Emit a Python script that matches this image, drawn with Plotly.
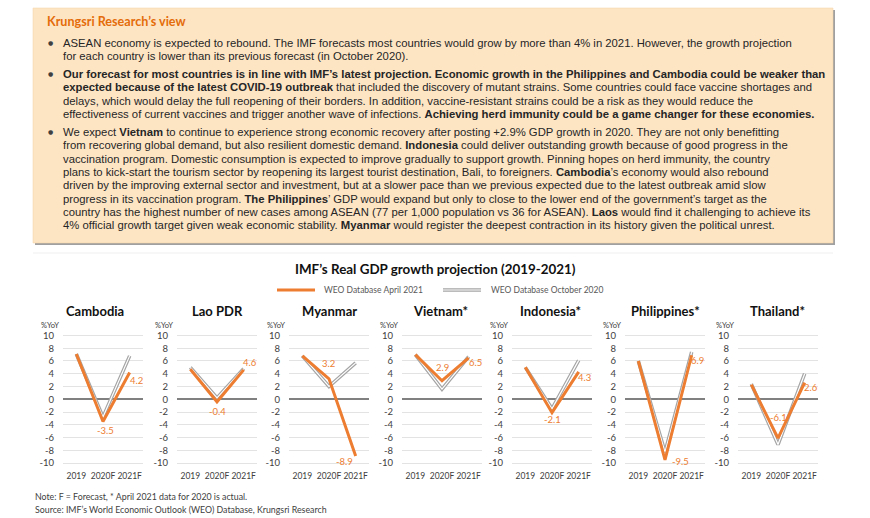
import plotly.graph_objects as go

W, H = 870, 518

years = ["2019", "2020F", "2021F"]
countries = ["Cambodia", "Lao PDR", "Myanmar", "Vietnam*", "Indonesia*", "Philippines*", "Thailand*"]
weo_apr2021 = [
    [7.1, -3.5, 4.2],
    [4.7, -0.4, 4.6],
    [6.8, 3.2, -8.9],
    [7.0, 2.9, 6.5],
    [5.0, -2.1, 4.3],
    [6.0, -9.5, 6.9],
    [2.3, -6.1, 2.6],
]
weo_oct2020 = [
    [7.1, -2.8, 6.8],
    [5.0, 0.2, 4.8],
    [6.8, 2.0, 5.7],
    [7.0, 1.6, 6.7],
    [5.0, -1.5, 6.1],
    [6.0, -8.3, 7.4],
    [2.4, -7.1, 4.0],
]
y_ticks = [10, 8, 6, 4, 2, 0, -2, -4, -6, -8, -10]

# styling / layout (pixels)
plot_left = [63, 177, 289, 402, 512, 625, 738]
title_cx = [95, 217, 329, 440, 550, 665, 777]
plot_w = 80
label_off = [  # (dx, dy) for 2020F and 2021F labels
    [(2, -9), (7, -8)],
    [(0, -10), (6, 7)],
    [(-1, 15), (-11, -5)],
    [(0, 13), (7, -5)],
    [(0, -7), (6, -6)],
    [(15, -2), (6, -5)],
    [(0, 21), (6, -5)],
]
ORANGE = "#ED7D31"
GRAY = "#A5A5A5"
TXT = "#262626"
FONT = "Lato"
BODY_FONT = "Liberation Sans"

def fx(x):
    return x / W

def fy(y):
    return 1 - y / H

y_top, y_bot = 329.1, 469.4

fig = go.Figure()
annotations = []
shapes = []

for i, c in enumerate(countries):
    n = "" if i == 0 else str(i + 1)
    xa, ya = "x" + n, "y" + n
    fig.add_trace(go.Scatter(x=years, y=weo_oct2020[i], mode="lines", xaxis=xa, yaxis=ya,
                             line=dict(color=GRAY, width=3.6), showlegend=False, hoverinfo="skip"))
    fig.add_trace(go.Scatter(x=years, y=weo_oct2020[i], mode="lines", xaxis=xa, yaxis=ya,
                             line=dict(color="white", width=1.2), showlegend=False, hoverinfo="skip"))
    fig.add_trace(go.Scatter(x=years, y=weo_apr2021[i], mode="lines", xaxis=xa, yaxis=ya,
                             line=dict(color=ORANGE, width=3), showlegend=False))
    l = plot_left[i]
    fig.layout["xaxis" + n] = dict(domain=[fx(l), fx(l + plot_w)], anchor=ya, type="category",
                                   categoryorder="array", categoryarray=years,
                                   range=[-0.5, 2.5], showgrid=False, zeroline=False, showline=False,
                                   ticks="", tickangle=0, automargin=False,
                                   tickfont=dict(family=FONT, size=8.5, color="#404040"),
                                   fixedrange=True)
    fig.layout["yaxis" + n] = dict(domain=[fy(y_bot), fy(y_top)], anchor=xa, range=[-11, 11],
                                   tickvals=y_ticks, ticktext=[str(v) for v in y_ticks],
                                   showgrid=True, gridcolor="#E3E3E3", gridwidth=1,
                                   zeroline=True, zerolinecolor="#808080", zerolinewidth=1.5,
                                   showline=False, ticks="", ticklabelstandoff=8, automargin=False,
                                   tickfont=dict(family=FONT, size=9.5, color="#404040"),
                                   fixedrange=True)
    # data labels (April 2021) for 2020F & 2021F
    for j in (1, 2):
        v = weo_apr2021[i][j]
        dx, dy = label_off[i][j - 1]
        annotations.append(dict(x=years[j], y=v, xref=xa, yref=ya, text=f"{v:.1f}", showarrow=False,
                                xshift=dx, yshift=dy, font=dict(family=FONT, size=9.5, color=ORANGE)))
    annotations.append(dict(x=fx(title_cx[i]), y=fy(311), xref="paper", yref="paper", text=f"<b>{c}</b>",
                            showarrow=False, xanchor="center", yanchor="middle",
                            font=dict(family=FONT, size=13, color="#111111")))
    annotations.append(dict(x=fx(l - 24), y=fy(325.5), xref="paper", yref="paper", text="%YoY",
                            showarrow=False, xanchor="left", yanchor="middle",
                            font=dict(family=FONT, size=7.5, color="#404040")))

# text box
shapes.append(dict(type="rect", xref="paper", yref="paper", x0=fx(35), x1=fx(835), y0=fy(245), y1=fy(10),
                   fillcolor="#A0A0A0", line=dict(width=0), layer="below"))
shapes.append(dict(type="rect", xref="paper", yref="paper", x0=fx(33), x1=fx(833), y0=fy(243), y1=fy(8),
                   fillcolor="#FDE5C4", line=dict(color="#F5D3A5", width=0.5), layer="below"))
# faint chart frame line
shapes.append(dict(type="line", xref="paper", yref="paper", x0=fx(33), x1=fx(833), y0=fy(253), y1=fy(253),
                   line=dict(color="#EFEFEF", width=1)))

annotations.append(dict(x=fx(45), y=fy(21), xref="paper", yref="paper", text="<b>Krungsri Research’s view</b>",
                        showarrow=False, xanchor="left", yanchor="middle",
                        font=dict(family=FONT, size=12.6, color="#E46C0A")))

lines = [
    (43, True, "ASEAN economy is expected to rebound. The IMF forecasts most countries would grow by more than 4% in 2021. However, the growth projection"),
    (56.5, False, "for each country is lower than its previous forecast (in October 2020)."),
    (74, True, "<b>Our forecast for most countries is in line with IMF’s latest projection. Economic growth in the Philippines and Cambodia could be weaker than</b>"),
    (87.5, False, "<b>expected because of the latest COVID-19 outbreak</b> that included the discovery of mutant strains. Some countries could face vaccine shortages and"),
    (101, False, "delays, which would delay the full reopening of their borders. In addition, vaccine-resistant strains could be a risk as they would reduce the"),
    (114.5, False, "effectiveness of current vaccines and trigger another wave of infections. <b>Achieving herd immunity could be a game changer for these economies.</b>"),
    (132, True, "We expect <b>Vietnam</b> to continue to experience strong economic recovery after posting +2.9% GDP growth in 2020. They are not only benefitting"),
    (145.3, False, "from recovering global demand, but also resilient domestic demand. <b>Indonesia</b> could deliver outstanding growth because of good progress in the"),
    (158.6, False, "vaccination program. Domestic consumption is expected to improve gradually to support growth. Pinning hopes on herd immunity, the country"),
    (171.9, False, "plans to kick-start the tourism sector by reopening its largest tourist destination, Bali, to foreigners. <b>Cambodia</b>’s economy would also rebound"),
    (185.2, False, "driven by the improving external sector and investment, but at a slower pace than we previous expected due to the latest outbreak amid slow"),
    (198.5, False, "progress in its vaccination program. <b>The Philippines</b>’ GDP would expand but only to close to the lower end of the government’s target as the"),
    (211.8, False, "country has the highest number of new cases among ASEAN (77 per 1,000 population vs 36 for ASEAN). <b>Laos</b> would find it challenging to achieve its"),
    (225.1, False, "4% official growth target given weak economic stability. <b>Myanmar</b> would register the deepest contraction in its history given the political unrest."),
]
for y, bullet, t in lines:
    if bullet:
        annotations.append(dict(x=fx(46), y=fy(y), xref="paper", yref="paper", text="●", showarrow=False,
                                xanchor="left", yanchor="middle", font=dict(family="DejaVu Sans", size=6, color="#404040")))
    annotations.append(dict(x=fx(61), y=fy(y), xref="paper", yref="paper", text=t, showarrow=False,
                            xanchor="left", yanchor="middle", font=dict(family=BODY_FONT, size=11.3, color=TXT)))

# chart title
annotations.append(dict(x=fx(435), y=fy(269), xref="paper", yref="paper",
                        text="<b>IMF’s Real GDP growth projection (2019-2021)</b>", showarrow=False,
                        xanchor="center", yanchor="middle", font=dict(family=FONT, size=13.4, color="#111111")))
# legend
shapes.append(dict(type="line", xref="paper", yref="paper", x0=fx(277), x1=fx(315), y0=fy(290), y1=fy(290),
                   line=dict(color=ORANGE, width=3)))
annotations.append(dict(x=fx(322), y=fy(290), xref="paper", yref="paper", text="WEO Database April 2021",
                        showarrow=False, xanchor="left", yanchor="middle", font=dict(family=FONT, size=8.5, color="#595959")))
shapes.append(dict(type="line", xref="paper", yref="paper", x0=fx(443), x1=fx(481), y0=fy(290), y1=fy(290),
                   line=dict(color=GRAY, width=3.6)))
shapes.append(dict(type="line", xref="paper", yref="paper", x0=fx(443), x1=fx(481), y0=fy(290), y1=fy(290),
                   line=dict(color="white", width=1.2)))
annotations.append(dict(x=fx(489), y=fy(290), xref="paper", yref="paper", text="WEO Database October 2020",
                        showarrow=False, xanchor="left", yanchor="middle", font=dict(family=FONT, size=8.5, color="#595959")))

# footnotes
annotations.append(dict(x=fx(33), y=fy(496), xref="paper", yref="paper",
                        text="Note: F = Forecast, * April 2021 data for 2020 is actual.", showarrow=False,
                        xanchor="left", yanchor="middle", font=dict(family=FONT, size=8.8, color="#404040")))
annotations.append(dict(x=fx(33), y=fy(509), xref="paper", yref="paper",
                        text="Source: IMF’s World Economic Outlook (WEO) Database, Krungsri Research", showarrow=False,
                        xanchor="left", yanchor="middle", font=dict(family=FONT, size=8.8, color="#404040")))

fig.update_layout(width=W, height=H, margin=dict(l=0, r=0, t=0, b=0), paper_bgcolor="white",
                  plot_bgcolor="rgba(0,0,0,0)", showlegend=False, annotations=annotations, shapes=shapes,
                  font=dict(family=FONT))
fig.write_html("out.html", config={"displayModeBar": False},
               post_script="document.body.style.margin='0';document.body.style.padding='0';")
